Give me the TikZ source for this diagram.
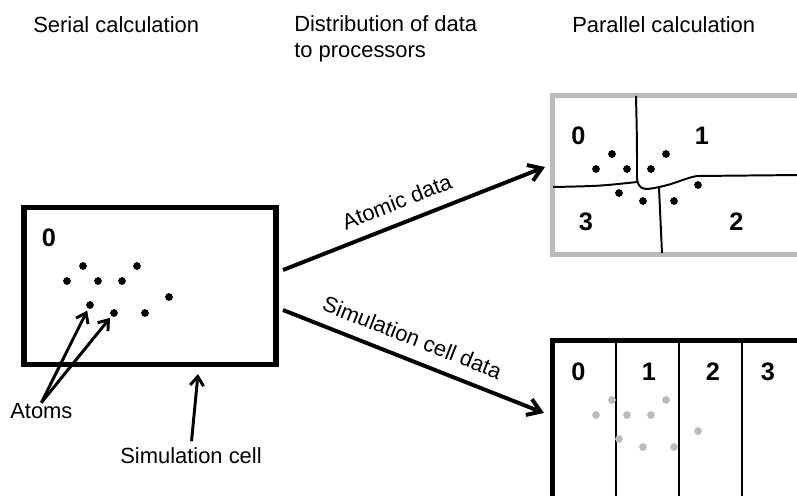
\documentclass[tikz,border=0pt]{standalone}
\usepackage{fontspec}
\setmainfont{Liberation Sans}
\usetikzlibrary{arrows.meta,positioning}
\definecolor{cellgray}{RGB}{187,187,189}

\begin{document}
\begin{tikzpicture}[x=0.025cm,y=-0.025cm,
    heading/.style={inner sep=0,font=\fontsize{15.6}{17.8}\selectfont},
    digit/.style={inner sep=0,font=\fontsize{18}{20}\selectfont\bfseries},
    atom/.style={circle,fill,inner sep=0,minimum size=5.5pt},
    wall/.style={line width=3.56pt},
    divider/.style={line width=1.4pt},
    flow/.style={line width=2.8pt,-{Straight Barb[length=9pt,width=12pt]}},
    pointer/.style={line width=2.1pt,-{Straight Barb[length=6.5pt,width=9.5pt]}}]
      \useasboundingbox (0,0) rectangle (797,495);
      \clip (0,0) rectangle (797,495);
      \draw
        (33,32) node[heading,anchor=base west] (serialhead){Serial calculation}
        (294,57) node[heading,anchor=base west,align=left] (disthead){Distribution of data\\to processors}
        (572,32) node[heading,anchor=base west] (parhead){Parallel calculation};
      \draw[wall] (24,207) rectangle (276,364.5);
      \node[digit] (s0) at (49,237.5) {0};
      \begin{scope}[name prefix=s-]
        \node[atom] (1) at (83,266) {};
        \node[atom] (2) at (137,266) {};
        \node[atom] (3) at (67,281) {};
        \node[atom] (4) at (98,281) {};
        \node[atom] (5) at (122,281) {};
        \node[atom] (6) at (169,297) {};
        \node[atom] (7) at (90,305) {};
        \node[atom] (8) at (114,313) {};
        \node[atom] (9) at (145,313) {};
      \end{scope}
      \node[heading,anchor=base west] (atoms) at (10,418) {Atoms};
      \node[heading,anchor=base west] (simlabel) at (120,463) {Simulation cell};
      \coordinate (wallpoint) at (198,374);
      \begin{scope}[pointer]
        \draw[shorten >=1.5pt] (atoms.north) to (s-7);
        \draw[shorten >=1.5pt] (atoms.north) to (s-8);
        \draw[shorten <=4pt] (simlabel.north) to (wallpoint);
      \end{scope}
      \coordinate (atomout) at (283,270);
      \coordinate (atomin) at (545,167);
      \coordinate (cellout) at (283,310);
      \coordinate (cellin) at (544,413);
      \draw[flow] (atomout) to node[heading,sloped,above,inner ysep=8.5pt,pos=0.465] (atomtext){Atomic data} (atomin);
      \draw[flow] (cellout) to node[heading,sloped,above,inner ysep=8.5pt,pos=0.465] (celltext){Simulation cell data} (cellin);
      \draw[wall,cellgray] (552,95) rectangle (830,254);
      \begin{scope}[divider]
        \draw (636,96) .. controls (637,140) .. (637,178) .. controls (638,191) and (646,190) .. (659,187)
          .. controls (675,184) and (685,178) .. (697,176) -- (800,175);
        \draw (553,187) .. controls (600,186) .. (637,182);
        \draw (659,188) .. controls (661,220) .. (662,253);
      \end{scope}
      \draw
        (578.5,135.5) node[digit] (t0){0}
        (702,135.5) node[digit] (t1){1}
        (736.5,221.5) node[digit] (t2){2}
        (586,221.5) node[digit] (t3){3};
      \begin{scope}[shift={(529,-112)},name prefix=t-]
        \node[atom] (1) at (83,266) {};
        \node[atom] (2) at (137,266) {};
        \node[atom] (3) at (67,281) {};
        \node[atom] (4) at (98,281) {};
        \node[atom] (5) at (122,281) {};
        \node[atom] (6) at (169,297) {};
        \node[atom] (7) at (90,305) {};
        \node[atom] (8) at (114,313) {};
        \node[atom] (9) at (145,313) {};
      \end{scope}
      \begin{scope}[divider]
        \draw (616,340) -- (616,500);
        \draw (679,340) -- (679,500);
        \draw (742,340) -- (742,500);
      \end{scope}
      \draw[wall] (552,530) -- (552,340) -- (830,340);
      \draw
        (578.5,372) node[digit] (b0){0}
        (649,372) node[digit] (b1){1}
        (713,372) node[digit] (b2){2}
        (768,372) node[digit] (b3){3};
      \begin{scope}[shift={(529,134)},name prefix=b-,cellgray]
        \node[atom] (1) at (83,266) {};
        \node[atom] (2) at (137,266) {};
        \node[atom] (3) at (67,281) {};
        \node[atom] (4) at (98,281) {};
        \node[atom] (5) at (122,281) {};
        \node[atom] (6) at (169,297) {};
        \node[atom] (7) at (90,305) {};
        \node[atom] (8) at (114,313) {};
        \node[atom] (9) at (145,313) {};
      \end{scope}
    \end{tikzpicture}
\end{document}
